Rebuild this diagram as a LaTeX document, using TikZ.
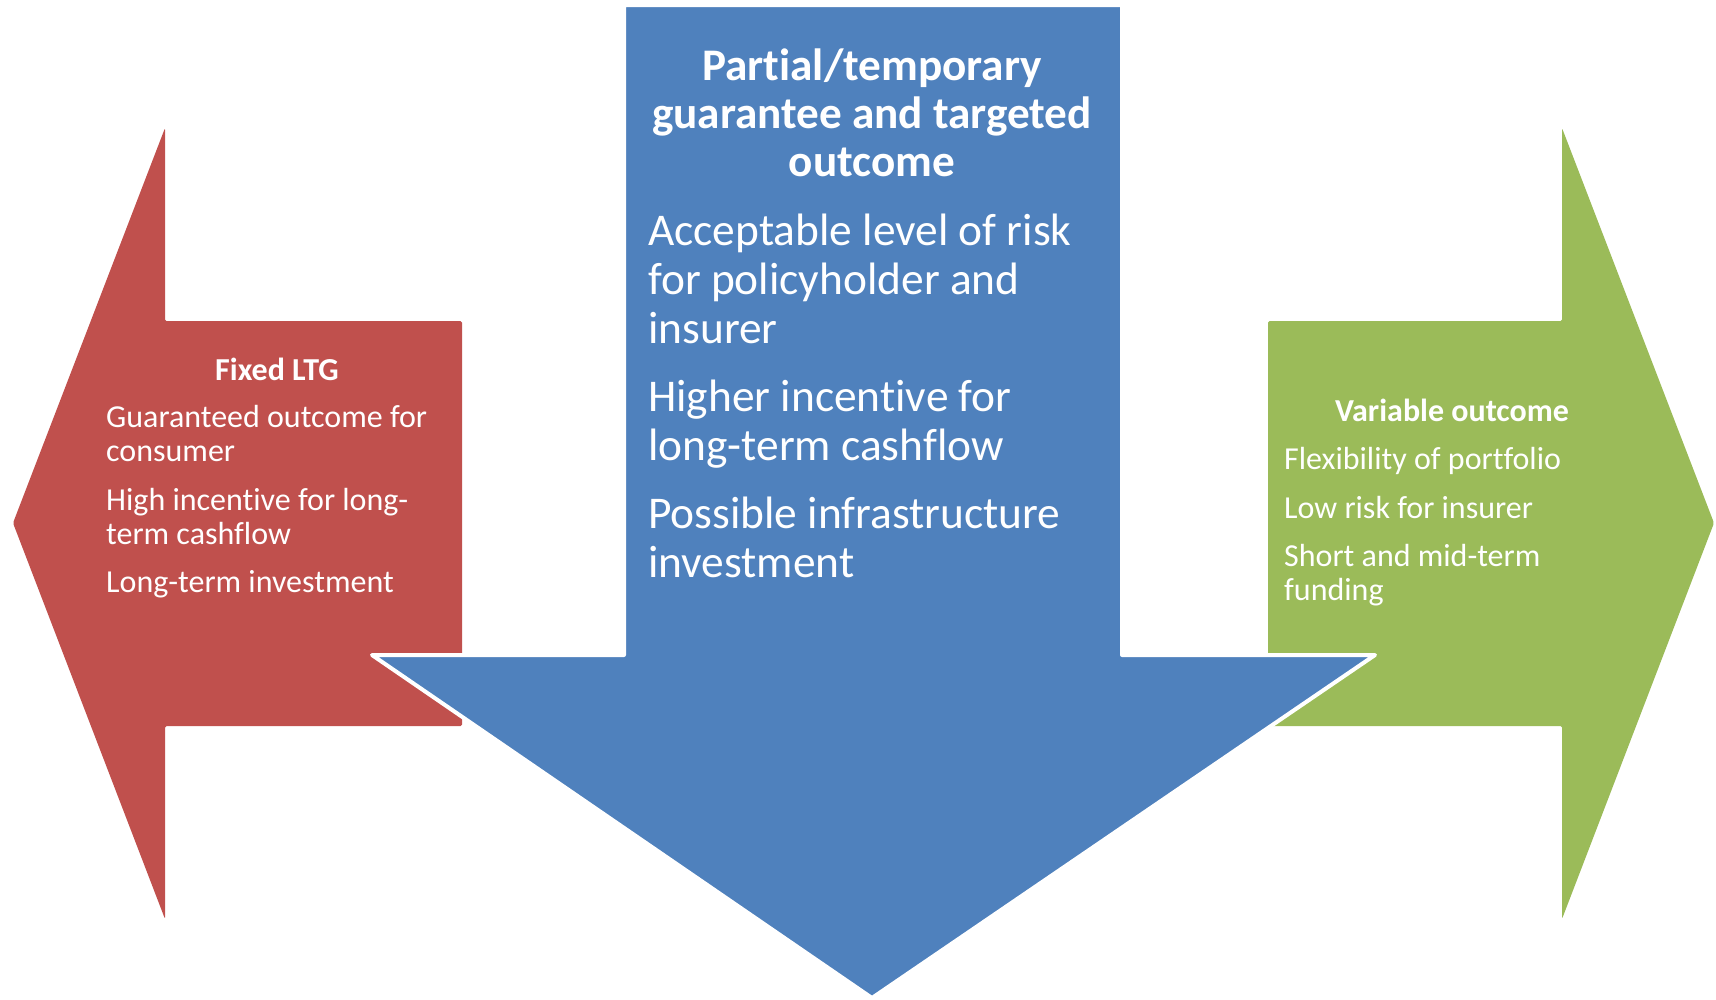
\documentclass[tikz,border=0pt]{standalone}
\usepackage{fontspec}
\setmainfont{Carlito}[Ligatures={NoCommon,NoRequired,NoContextual,NoRare},Contextuals=NoAlternate]
% keep t and i as separate glyphs
\newcommand\tisep{\kern0pt}
\definecolor{ltgred}{HTML}{C0504D}
\definecolor{midblue}{HTML}{4F81BD}
\definecolor{vargreen}{HTML}{9BBB59}
\begin{document}
\begin{tikzpicture}[x=1pt,y=-1pt,
  bigtxt/.style={text=white, inner sep=0pt, font=\fontsize{45.4}{49}\selectfont},
  bighead/.style={bigtxt, font=\bfseries\fontsize{45.2}{49}\selectfont},
  sidetxt/.style={text=white, inner sep=0pt, font=\fontsize{32}{34}\selectfont},
  sidehead/.style={sidetxt, font=\bfseries\fontsize{32}{34}\selectfont}]
\useasboundingbox (0,0) rectangle (1716,999);

% left arrow: fixed LTG
\fill[ltgred, rounded corners=1.5] (13,523) -- (165,128) -- (165,321) -- (462,321)
  -- (462,726) -- (165,726) -- (165,919) -- cycle;
% right arrow: variable outcome
\fill[vargreen, rounded corners=1.5] (1714,523) -- (1562,128) -- (1562,321) -- (1268,321)
  -- (1268,726) -- (1562,726) -- (1562,919) -- cycle;
% central down arrow with white outline
\filldraw[fill=midblue, draw=white, line width=4, line join=round]
  (624,5) -- (1122,5) -- (1122,655) -- (1375,655) -- (872,998) -- (372,655) -- (624,655) -- cycle;

% central texts
\node[bighead, anchor=base] (c1) at (872,80) {Part\tisep ial/temporary};
\node[bighead, anchor=base] (c2) at (872,128) {guarantee and targeted};
\node[bighead, anchor=base] (c3) at (872,176) {outcome};
\node[bigtxt, anchor=base west] (c4) at (648,245) {Acceptable level of risk};
\node[bigtxt, anchor=base west] (c5) at (648,294) {for policyholder and};
\node[bigtxt, anchor=base west] (c6) at (648,343) {insurer};
\node[bigtxt, anchor=base west] (c7) at (648,411) {Higher incent\tisep ive for};
\node[bigtxt, anchor=base west] (c8) at (648,460) {long-term cashflow};
\node[bigtxt, anchor=base west] (c9) at (648,528) {Possible infrastructure};
\node[bigtxt, anchor=base west] (c10) at (648,577) {investment};

% left texts
\node[sidehead, anchor=base] (l0) at (277,380) {Fixed LTG};
\node[sidetxt, anchor=base west] (l1) at (106,427) {Guaranteed outcome for};
\node[sidetxt, anchor=base west] (l2) at (106,461) {consumer};
\node[sidetxt, anchor=base west] (l3) at (106,510) {High incent\tisep ive for long-};
\node[sidetxt, anchor=base west] (l4) at (106,544) {term cashflow};
\node[sidetxt, anchor=base west] (l5) at (106,592) {Long-term investment};

% right texts
\node[sidehead, anchor=base] (r0) at (1452,421) {Variable outcome};
\node[sidetxt, anchor=base west] (r1) at (1284,469) {Flexibility of portfolio};
\node[sidetxt, anchor=base west] (r2) at (1284,518) {Low risk for insurer};
\node[sidetxt, anchor=base west] (r3) at (1284,566) {Short and mid-term};
\node[sidetxt, anchor=base west] (r4) at (1284,600) {funding};
\end{tikzpicture}
\end{document}
